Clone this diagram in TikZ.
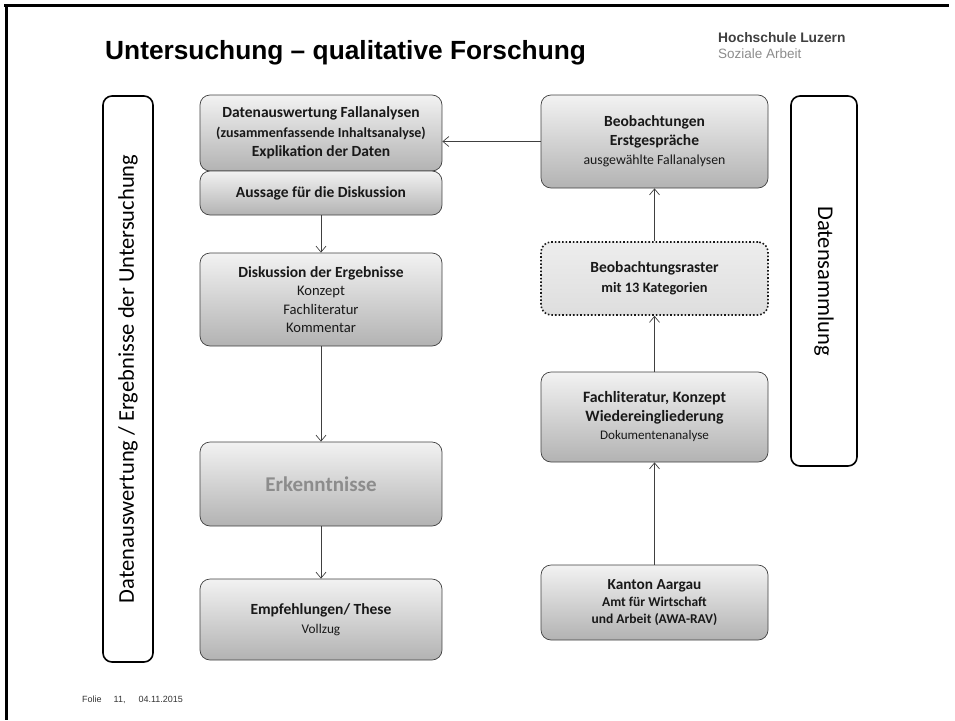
\documentclass[tikz,border=0pt]{standalone}
\usepackage{fontspec}
\setmainfont{Carlito}
\newfontfamily\arialfont{Liberation Sans}
\usepackage{tikz}
\usetikzlibrary{arrows.meta}

\begin{document}
\begin{tikzpicture}[x=1pt,y=-1pt,
  box/.style={draw=black!75,line width=0.7pt,rounded corners=10pt,top color=black!5,bottom color=black!30,
    align=center,inner sep=0pt,text=black!90},
  rasterbox/.style={box,draw=black!90,line width=1.6pt,dotted,top color=black!7,bottom color=black!13},
  sidebox/.style={draw=black,line width=1.6pt,rounded corners=9pt,fill=white,inner sep=0pt},
  sidetext/.style={font=\fontsize{22.5}{24}\selectfont,inner sep=0pt},
  conn/.style={draw=black!75,line width=0.7pt,-{Straight Barb[length=6pt,width=10pt,line width=0.7pt]}}]
\useasboundingbox (0,0) rectangle (955,720);
\draw[black,line width=2.4pt] (4,5.5) -- (949,5.5);
\draw[black,line width=2.4pt] (6.5,5.5) -- (6.5,720);
\node[anchor=base west,font=\arialfont\bfseries\fontsize{26.3}{28}\selectfont,inner sep=0pt] (title) at (105,59) {Untersuchung – qualitative Forschung};
\node[anchor=base west,font=\arialfont\bfseries\fontsize{13.8}{15}\selectfont,text=black!75,inner sep=0pt] (hslu) at (718,42) {Hochschule Luzern};
\node[anchor=base west,font=\arialfont\fontsize{13.5}{15}\selectfont,text=black!45,inner sep=0pt] (sa) at (718,58) {Soziale Arbeit};
\node[sidebox,minimum width=50pt,minimum height=566pt] (auswertung) at (128,379) {};
\node[sidetext,rotate=90] (auswertungtext) at (auswertung.center) {Datenauswertung / Ergebnisse der Untersuchung};
\node[sidebox,minimum width=66pt,minimum height=370pt] (sammlung) at (824,281) {};
\node[sidetext,rotate=-90] (sammlungtext) at (sammlung.center) {Datensammlung};
\node[box,minimum width=242pt,minimum height=76pt,font=\fontsize{15.5}{19.5}\selectfont\bfseries] (fallanalysen) at (321,133) {Datenauswertung Fallanalysen\\{\fontsize{14}{19.5}\selectfont(zusammenfassende Inhaltsanalyse)}\\Explikation der Daten};
\node[box,minimum width=242pt,minimum height=44pt,font=\fontsize{15.5}{19}\selectfont\bfseries] (aussage) at (321,193) {Aussage f\"ur die Diskussion};
\node[box,minimum width=242pt,minimum height=93pt,font=\fontsize{14.6}{18.5}\selectfont] (diskussion) at (321,299.5) {{\fontsize{15.5}{18.5}\selectfont\bfseries Diskussion der Ergebnisse}\\Konzept\\Fachliteratur\\Kommentar};
\node[box,minimum width=242pt,minimum height=84pt,text=black!45,font=\fontsize{21}{24}\selectfont\bfseries] (erkenntnisse) at (321,484) {Erkenntnisse};
\node[box,minimum width=242pt,minimum height=81pt,font=\fontsize{13.3}{19}\selectfont] (empfehlungen) at (321,619.5) {{\fontsize{15.5}{19}\selectfont\bfseries Empfehlungen/ These}\\Vollzug};
\node[box,minimum width=227pt,minimum height=93pt,font=\fontsize{15.5}{19}\selectfont\bfseries] (beobachtungen) at (654.5,141.5) {Beobachtungen\\Erstgespr\"ache\\{\fontsize{13.8}{19}\mdseries\selectfont ausgew\"ahlte Fallanalysen}};
\node[rasterbox,minimum width=227pt,minimum height=73pt,font=\fontsize{15.5}{20}\selectfont\bfseries] (raster) at (654.5,278.5) {Beobachtungsraster\\{\fontsize{14.4}{20}\selectfont mit 13 Kategorien}};
\node[box,minimum width=227pt,minimum height=90pt,font=\fontsize{15.8}{18.5}\selectfont\bfseries] (fachliteratur) at (654.5,417) {Fachliteratur, Konzept\\Wiedereingliederung\\{\fontsize{13.1}{18.5}\mdseries\selectfont Dokumentenanalyse}};
\node[box,minimum width=227pt,minimum height=75pt,font=\fontsize{13.5}{17}\selectfont\bfseries] (kanton) at (654.5,602.5) {{\fontsize{15.3}{17}\selectfont Kanton Aargau}\\Amt f\"ur Wirtschaft\\und Arbeit (AWA-RAV)};
\draw[conn] (beobachtungen.west) -- (beobachtungen.west -| fallanalysen.east);
\draw[conn] (aussage) -- (diskussion);
\draw[conn] (diskussion) -- (erkenntnisse);
\draw[conn] (erkenntnisse) -- (empfehlungen);
\draw[conn] (kanton) -- (fachliteratur);
\draw[conn] (fachliteratur) -- (raster);
\draw[conn] (raster) -- (beobachtungen);
\node[anchor=base west,font=\arialfont\fontsize{9}{10}\selectfont,text=black!80,inner sep=0pt] (folie) at (82,702) {Folie\hspace{12pt}11,\hspace{13pt}04.11.2015};
\end{tikzpicture}
\end{document}
